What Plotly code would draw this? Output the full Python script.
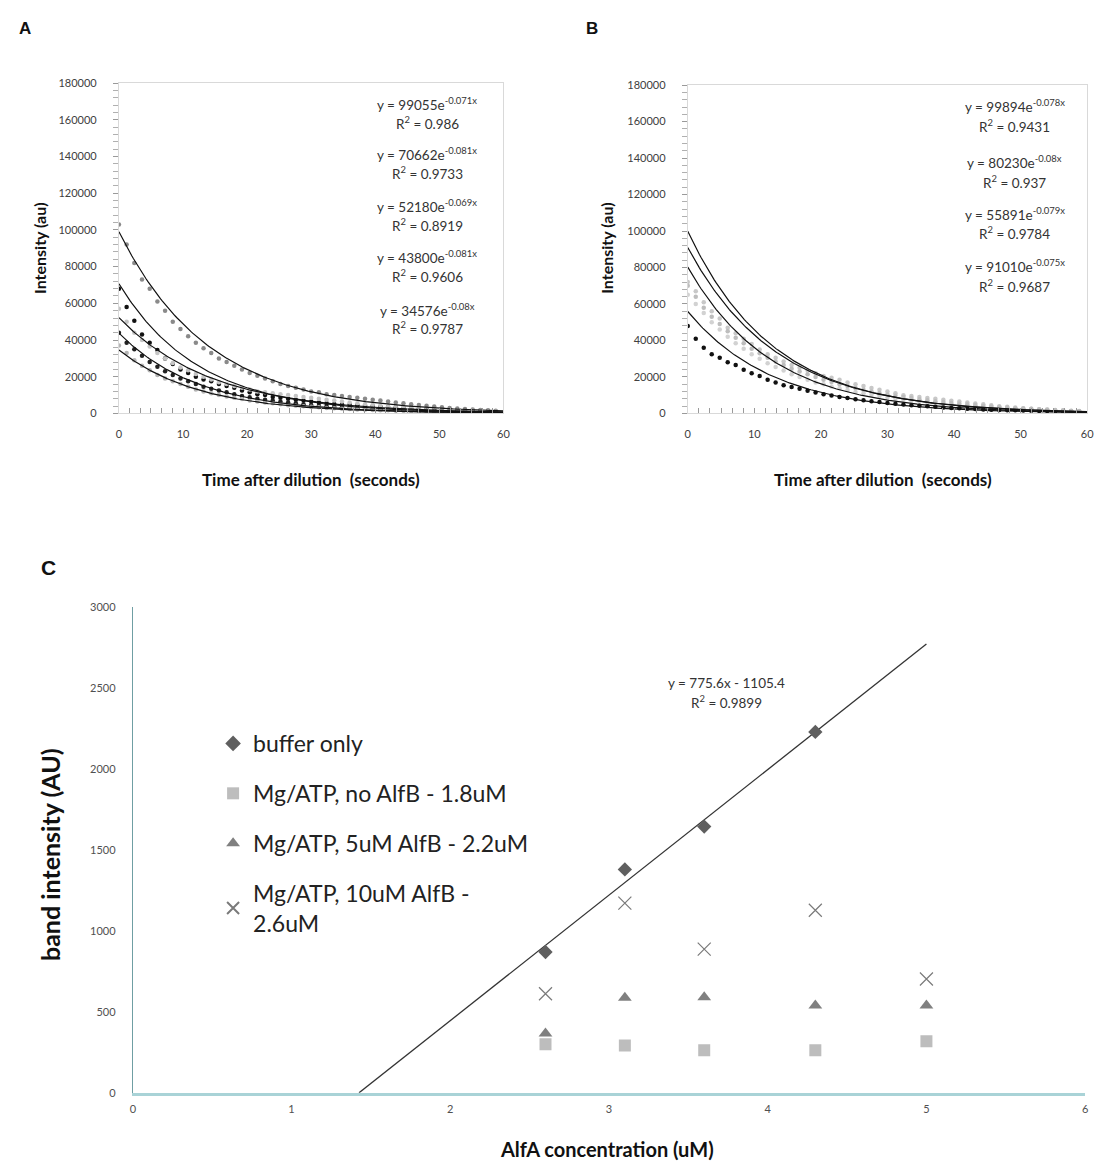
import numpy as np
import plotly.graph_objects as go

FONT = "Lato"

# ---------------- Panels A & B : time course data ----------------
time_s = [0, 1.2, 2.4, 3.6, 4.8, 6, 7.2, 8.4, 9.6, 10.8, 12, 13.2, 14.4, 15.6, 16.8, 18, 19.2,
          20.4, 21.6, 22.8, 24, 25.2, 26.4, 27.6, 28.8, 30, 31.2, 32.4, 33.6, 34.8, 36, 37.2,
          38.4, 39.6, 40.8, 42, 43.2, 44.4, 45.6, 46.8, 48, 49.2, 50.4, 51.6, 52.8, 54, 55.2,
          56.4, 57.6, 58.8]

a_s1 = [103000, 92000, 82000, 73000, 68000, 61000, 56000, 50000, 46000, 42000,
        38500, 35500, 33000, 30000, 28000, 26000, 24000, 22000, 20500, 19000,
        17500, 16000, 15000, 14000, 13000, 12000, 11500, 10500, 10000, 9500,
        9000, 8500, 8000, 7500, 7000, 6500, 6000, 5500, 5000, 4600,
        4200, 3800, 3400, 3000, 2700, 2400, 2100, 1900, 1700, 1500]
a_s2 = [68000, 58000, 50500, 43000, 38500, 34500, 30000, 27000, 24000, 22000,
        20000, 18500, 17500, 16000, 15000, 14000, 12500, 11500, 10500, 10000,
        9000, 8500, 8000, 7500, 7000, 6500, 6000, 5500, 5200, 5000,
        4700, 4500, 4200, 4000, 3800, 3500, 3300, 3000, 2800, 2600,
        2400, 2200, 2000, 1800, 1600, 1400, 1300, 1100, 1000, 900]
a_s3 = [57000, 50000, 44000, 40000, 36500, 33000, 30000, 27500, 25000, 23500,
        21500, 20000, 18500, 17000, 16000, 15000, 14000, 13000, 12000, 11500,
        11000, 10500, 10000, 9500, 9000, 8500, 8000, 7500, 7000, 6500,
        6000, 5500, 5000, 4600, 4200, 3800, 3500, 3200, 2900, 2600,
        2400, 2200, 2000, 1800, 1600, 1500, 1400, 1300, 1200, 1100]
a_s4 = [44000, 38500, 35000, 31500, 28000, 25500, 23000, 21000, 19000, 17500,
        16000, 14500, 13500, 12500, 11500, 10500, 9500, 8800, 8000, 7500,
        7000, 6500, 6000, 5500, 5000, 4600, 4200, 3900, 3600, 3300,
        3000, 2800, 2600, 2400, 2200, 2000, 1800, 1700, 1600, 1500,
        1400, 1300, 1200, 1100, 1000, 900, 800, 700, 600, 500]
a_s5 = [37000, 33000, 29000, 26000, 23500, 21000, 19000, 17500, 16000, 14500,
        13000, 12000, 11000, 10000, 9200, 8500, 7800, 7000, 6500, 6000,
        5500, 5000, 4500, 4200, 3900, 3600, 3300, 3000, 2800, 2600,
        2400, 2200, 2000, 1900, 1800, 1700, 1600, 1500, 1400, 1300,
        1200, 1100, 1000, 950, 900, 850, 800, 750, 700, 650]

b_s1 = [72000, 67000, 61000, 56000, 52000, 47000, 44000, 41000, 38000, 35000,
        32500, 30500, 28500, 26500, 25000, 23500, 22000, 20500, 19500, 18500,
        17000, 16000, 15000, 14000, 13000, 12000, 11000, 10000, 9500, 9000,
        8500, 8000, 7500, 7000, 6500, 6000, 5500, 5000, 4500, 4000,
        3600, 3200, 2900, 2600, 2300, 2000, 1800, 1600, 1400, 1200]
b_s2 = [65000, 60000, 55000, 50000, 46000, 42000, 38500, 35500, 32500, 30000,
        27500, 25500, 23500, 21500, 20000, 18500, 17000, 16000, 14800, 13800,
        12800, 11800, 11000, 10200, 9500, 8800, 8200, 7600, 7000, 6500,
        6000, 5500, 5100, 4700, 4300, 4000, 3600, 3300, 3000, 2700,
        2500, 2300, 2100, 1900, 1700, 1500, 1400, 1300, 1200, 1100]
b_s3 = [48000, 41000, 36000, 32500, 30500, 28000, 26500, 24000, 22000, 20500,
        18500, 17000, 15500, 14500, 13500, 12500, 11500, 10500, 9800, 9000,
        8400, 7800, 7200, 6700, 6200, 5700, 5300, 4900, 4500, 4200,
        3900, 3600, 3300, 3000, 2800, 2600, 2400, 2200, 2000, 1900,
        1800, 1700, 1600, 1500, 1400, 1300, 1200, 1100, 1000, 900]
b_s4 = [70000, 64000, 58000, 53000, 49000, 45000, 41500, 38500, 35500, 33000,
        30500, 28500, 26500, 24500, 23000, 21500, 20000, 18500, 17200, 16000,
        15000, 14000, 13000, 12000, 11200, 10400, 9700, 9000, 8400, 7800,
        7200, 6700, 6200, 5700, 5300, 4900, 4500, 4100, 3800, 3500,
        3200, 2900, 2700, 2500, 2300, 2100, 1900, 1700, 1500, 1300]

a_series = [a_s1, a_s2, a_s3, a_s4, a_s5]
a_colors = ["#8a8a8a", "#111111", "#c4c4c4", "#222222", "#b5b5b5"]
a_fit_amp = [99055, 70662, 52180, 43800, 34576]
a_fit_rate = [0.071, 0.081, 0.069, 0.081, 0.08]
a_fit_r2 = ["0.986", "0.9733", "0.8919", "0.9606", "0.9787"]
a_fit_rate_txt = ["-0.071x", "-0.081x", "-0.069x", "-0.081x", "-0.08x"]

b_series = [b_s1, b_s2, b_s3, b_s4]
b_colors = ["#c8c8c8", "#d2d2d2", "#111111", "#bdbdbd"]
b_fit_amp = [99894, 80230, 55891, 91010]
b_fit_rate = [0.078, 0.08, 0.079, 0.075]
b_fit_r2 = ["0.9431", "0.937", "0.9784", "0.9687"]
b_fit_rate_txt = ["-0.078x", "-0.08x", "-0.079x", "-0.075x"]

# ---------------- Panel C ----------------
conc_uM = [2.6, 3.1, 3.6, 4.3, 5.0]
c_buffer = [870, 1380, 1645, 2230]          # first 4 concentrations
c_noB = [300, 293, 263, 263, 318]
c_5uM = [367, 588, 590, 540, 540]
c_10uM = [612, 1172, 888, 1128, 703]
c_names = ["buffer only", "Mg/ATP, no AlfB - 1.8uM", "Mg/ATP, 5uM AlfB - 2.2uM",
           "Mg/ATP, 10uM AlfB - <br>2.6uM"]
c_slope, c_intercept, c_r2 = 775.6, -1105.4, "0.9899"
c_line_xmax = 5.0

fig = go.Figure()

# Panel A
t_fit = np.linspace(0, 60, 241)
for ys, col in zip(a_series, a_colors):
    fig.add_trace(go.Scatter(x=time_s, y=ys, mode="markers", xaxis="x", yaxis="y",
                             marker=dict(size=4.5, color=col), showlegend=False))
for amp, rate in zip(a_fit_amp, a_fit_rate):
    fig.add_trace(go.Scatter(x=t_fit, y=amp * np.exp(-rate * t_fit), mode="lines",
                             xaxis="x", yaxis="y", line=dict(color="#111111", width=1.2),
                             showlegend=False))
# Panel B
for ys, col in zip(b_series, b_colors):
    fig.add_trace(go.Scatter(x=time_s, y=ys, mode="markers", xaxis="x2", yaxis="y2",
                             marker=dict(size=4.5, color=col), showlegend=False))
for amp, rate in zip(b_fit_amp, b_fit_rate):
    fig.add_trace(go.Scatter(x=t_fit, y=amp * np.exp(-rate * t_fit), mode="lines",
                             xaxis="x2", yaxis="y2", line=dict(color="#111111", width=1.2),
                             showlegend=False))

# Panel C
x0_line = -c_intercept / c_slope
xl = np.array([x0_line, c_line_xmax])
fig.add_trace(go.Scatter(x=xl, y=c_slope * xl + c_intercept, mode="lines", xaxis="x3", yaxis="y3",
                         line=dict(color="#333333", width=1.3), showlegend=False))
c_styles = [
    dict(symbol="diamond", size=11, color="#5f5f5f"),
    dict(symbol="square", size=12, color="#bdbdbd"),
    dict(symbol="triangle-up", size=12, color="#808080"),
    dict(symbol="x-thin-open", size=13, color="#7a7a7a", line=dict(width=1.2, color="#7a7a7a")),
]
c_data = [c_buffer, c_noB, c_5uM, c_10uM]
for i, (name, ys, st) in enumerate(zip(c_names, c_data, c_styles)):
    fig.add_trace(go.Scatter(x=conc_uM[:len(ys)], y=ys, mode="markers", name=name,
                             xaxis="x3", yaxis="y3", marker=st, legendgroup=f"g{i}"))

W, H = 1109, 1170
def px(x):
    return x / W
def py(y):
    return 1 - y / H

tickfont = dict(family=FONT, size=11, color="#404040")
common_ab_x = dict(range=[0, 60], dtick=10, tick0=0, showgrid=False, zeroline=False,
                   showline=True, linecolor="#d9d9d9", mirror=True, ticks="inside", ticklen=5,
                   tickcolor="#9a9a9a", tickfont=tickfont, ticklabelstandoff=10,
                   minor=dict(dtick=10 / 6, tick0=0, ticks="inside", ticklen=5, tickcolor="#9a9a9a"))
common_ab_y = dict(range=[0, 180000], dtick=20000, showgrid=False, zeroline=False,
                   showline=True, linecolor="#d9d9d9", mirror=True, ticks="outside", ticklen=5,
                   tickcolor="#9a9a9a", tickfont=tickfont, ticklabelstandoff=14,
                   tickformat="d",
                   minor=dict(dtick=4000, ticks="outside", ticklen=5, tickcolor="#b0b0b0"))

fig.update_layout(
    width=W, height=H, margin=dict(l=0, r=0, t=0, b=0),
    paper_bgcolor="white", plot_bgcolor="white",
    font=dict(family=FONT, color="#404040"),
    xaxis=dict(domain=[px(117), px(505)], anchor="y", **common_ab_x),
    yaxis=dict(domain=[py(411), py(77)], anchor="x", **common_ab_y),
    xaxis2=dict(domain=[px(691), px(1094)], anchor="y2", **common_ab_x),
    yaxis2=dict(domain=[py(411), py(79)], anchor="x2", **common_ab_y),
    xaxis3=dict(domain=[px(131), px(1092)], anchor="y3", range=[0, 6], dtick=1, showgrid=False,
                zeroline=False, showline=True, linecolor="#a9d3d7", linewidth=3, ticks="",
                tickfont=dict(family=FONT, size=11, color="#505050"), ticklabelstandoff=4),
    yaxis3=dict(domain=[py(1098), py(607)], anchor="x3", range=[0, 3000], dtick=500,
                showgrid=False, zeroline=False, showline=True, linecolor="#6f9ea3", linewidth=1,
                ticks="", tickfont=dict(family=FONT, size=11, color="#505050"),
                ticklabelstandoff=14),
    showlegend=True,
    legend=dict(x=px(212), y=py(723), xanchor="left", yanchor="top", bgcolor="rgba(0,0,0,0)",
                font=dict(family=FONT, size=23, color="#222222"), tracegroupgap=17,
                itemsizing="constant", itemwidth=30),
)

ann = []
def add(text, x, y, size, color="#333333", family=FONT, angle=0):
    ann.append(dict(text=text, x=px(x), y=py(y), xref="paper", yref="paper", showarrow=False,
                    xanchor="center", yanchor="middle", textangle=angle,
                    font=dict(family=family, size=size, color=color)))

# panel letters
add("<b>A</b>", 22, 22, 17, "#111111", "Liberation Sans")
add("<b>B</b>", 594, 22, 17, "#111111", "Liberation Sans")
add("<b>C</b>", 46, 567, 21, "#111111", "Liberation Sans")
# axis titles A/B
for xc in [37, 609]:
    add("<b>Intensity (au)</b>", xc, 244, 16, "#111111", angle=-90)
for xc in [311, 888]:
    add("<b>Time after dilution  (seconds)</b>", xc, 478, 17, "#111111")
# axis titles C
add("<b>band intensity (AU)</b>", 48, 857, 25, "#111111", angle=-90)
add("<b>AlfA concentration (uM)</b>", 610, 1155, 20, "#111111")

# equations A
a_eq_y = [98, 149, 201, 253, 306]
for amp, rtxt, r2, yy in zip(a_fit_amp, a_fit_rate_txt, a_fit_r2, a_eq_y):
    add(f"y = {amp}e<sup>{rtxt}</sup>", 428, yy, 13.5)
    add(f"R<sup>2</sup> = {r2}", 428, yy + 19, 13.5)
b_eq_y = [100, 157, 209, 262]
for amp, rtxt, r2, yy in zip(b_fit_amp, b_fit_rate_txt, b_fit_r2, b_eq_y):
    add(f"y = {amp}e<sup>{rtxt}</sup>", 1021, yy, 13.5)
    add(f"R<sup>2</sup> = {r2}", 1021, yy + 20, 13.5)
# equation C
add(f"y = {c_slope}x - {abs(c_intercept)}", 730, 684, 13.5)
add(f"R<sup>2</sup> = {c_r2}", 730, 703, 13.5)

fig.update_layout(annotations=ann)
fig.write_html("out.html", config={"displayModeBar": False},
               post_script="document.body.style.margin='0';")
